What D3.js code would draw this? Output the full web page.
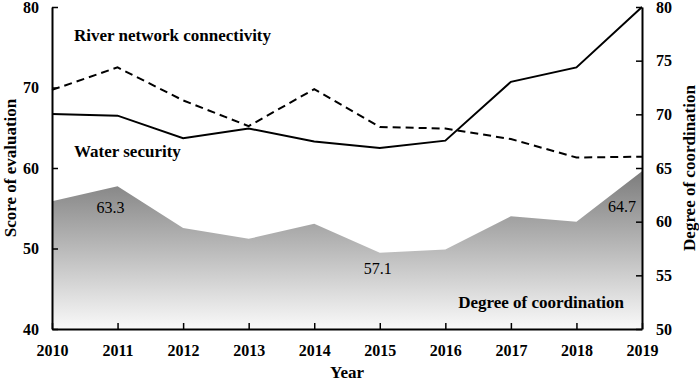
<!DOCTYPE html>
<html>
<head>
<meta charset="utf-8">
<script src="https://cdn.jsdelivr.net/npm/d3@7"></script>
<style>
  body { margin: 0; background: #fff; }
  svg text { font-family: "Liberation Serif", "Times New Roman", Times, "DejaVu Serif", serif !important; }
</style>
</head>
<body>
<div id="chart"></div>
<script>
// Data
const years = [2010, 2011, 2012, 2013, 2014, 2015, 2016, 2017, 2018, 2019];
const waterSecurity = [66.7, 66.5, 63.7, 64.9, 63.3, 62.5, 63.4, 70.7, 72.5, 80.0];
const riverConnectivity = [69.7, 72.5, 68.4, 65.2, 69.8, 65.1, 64.9, 63.6, 61.3, 61.4];
const coordination = [61.9, 63.3, 59.4, 58.4, 59.8, 57.1, 57.4, 60.5, 60.0, 64.7];
const leftTicks = [40, 50, 60, 70, 80];
const rightTicks = [50, 55, 60, 65, 70, 75, 80];
const valueLabels = [
  { year: 2011, value: 63.3, dx: -7, dy: 27 },
  { year: 2015, value: 57.1, dx: -2, dy: 21 },
  { year: 2019, value: 64.7, dx: -20, dy: 41 }
];

const margin = { top: 7, right: 57, bottom: 52, left: 52 };
const width = 699 - margin.left - margin.right;
const height = 381 - margin.top - margin.bottom;

const svg = d3.select("#chart")
  .append("svg")
  .attr("width", 699)
  .attr("height", 381)
  .append("g")
  .attr("transform", `translate(${margin.left},${margin.top})`);

const xScale = d3.scaleLinear().domain([2010, 2019]).range([0, width]);
const yLeft = d3.scaleLinear().domain([40, 80]).range([height, 0]);
const yRight = d3.scaleLinear().domain([50, 80]).range([height, 0]);

// gradient for area
const grad = svg.append("defs").append("linearGradient")
  .attr("id", "areaGrad")
  .attr("x1", 0).attr("y1", 0).attr("x2", 0).attr("y2", 1);
grad.append("stop").attr("offset", "0%").attr("stop-color", "#7c7c7c");
grad.append("stop").attr("offset", "100%").attr("stop-color", "#f9f9f9");

const area = d3.area()
  .x((d, i) => xScale(years[i]))
  .y0(yRight(50))
  .y1(d => yRight(d));

svg.append("path")
  .datum(coordination)
  .attr("d", area)
  .attr("fill", "url(#areaGrad)");

// lines
const lineLeft = d3.line()
  .x((d, i) => xScale(years[i]))
  .y(d => yLeft(d));

svg.append("path")
  .datum(riverConnectivity)
  .attr("d", lineLeft)
  .attr("fill", "none")
  .attr("stroke", "#000")
  .attr("stroke-width", 2)
  .attr("stroke-dasharray", "8,5");

svg.append("path")
  .datum(waterSecurity)
  .attr("d", lineLeft)
  .attr("fill", "none")
  .attr("stroke", "#000")
  .attr("stroke-width", 2);

// axes
const axisStyle = g => {
  g.attr("font-family", null);
  g.select(".domain").attr("stroke", "#000").attr("stroke-width", 2);
  g.selectAll(".tick line").attr("stroke", "#000").attr("stroke-width", 1.5);
  g.selectAll(".tick text")
    .style("font-weight", "bold")
    .style("font-size", "16px")
    .attr("fill", "#000");
};

svg.append("g")
  .attr("transform", `translate(0,${height})`)
  .call(d3.axisBottom(xScale).tickValues(years).tickFormat(d3.format("d"))
    .tickSizeInner(-6).tickSizeOuter(0).tickPadding(16))
  .call(axisStyle);

svg.append("g")
  .call(d3.axisLeft(yLeft).tickValues(leftTicks)
    .tickSizeInner(-6).tickSizeOuter(0).tickPadding(13))
  .call(axisStyle);

svg.append("g")
  .attr("transform", `translate(${width},0)`)
  .call(d3.axisRight(yRight).tickValues(rightTicks)
    .tickSizeInner(-6).tickSizeOuter(0).tickPadding(14))
  .call(axisStyle);

// axis titles
svg.append("text")
  .attr("x", width / 2)
  .attr("y", height + 49)
  .attr("text-anchor", "middle")
  .style("font-weight", "bold")
  .style("font-size", "17px")
  .text("Year");

svg.append("text")
  .attr("transform", "rotate(-90)")
  .attr("x", -height / 2)
  .attr("y", -36)
  .attr("text-anchor", "middle")
  .style("font-weight", "bold")
  .style("font-size", "17px")
  .text("Score of evaluation");

svg.append("text")
  .attr("transform", "rotate(-90)")
  .attr("x", -height / 2)
  .attr("y", width + 53)
  .attr("text-anchor", "middle")
  .style("font-weight", "bold")
  .style("font-size", "17px")
  .text("Degree of coordination");

// series labels
const seriesLabels = [
  { text: "River network connectivity", x: 22, y: 34, anchor: "start" },
  { text: "Water security", x: 22, y: 150, anchor: "start" },
  { text: "Degree of coordination", x: 572, y: 301, anchor: "end" }
];
svg.selectAll(".series-label")
  .data(seriesLabels)
  .enter()
  .append("text")
  .attr("class", "series-label")
  .attr("x", d => d.x)
  .attr("y", d => d.y)
  .attr("text-anchor", d => d.anchor)
  .style("font-weight", "bold")
  .style("font-size", "17px")
  .text(d => d.text);

// value labels
svg.selectAll(".value-label")
  .data(valueLabels)
  .enter()
  .append("text")
  .attr("class", "value-label")
  .attr("x", d => xScale(d.year) + d.dx)
  .attr("y", d => yRight(d.value) + d.dy)
  .attr("text-anchor", "middle")
  .style("font-size", "16px")
  .text(d => d.value.toFixed(1));
</script>
</body>
</html>
